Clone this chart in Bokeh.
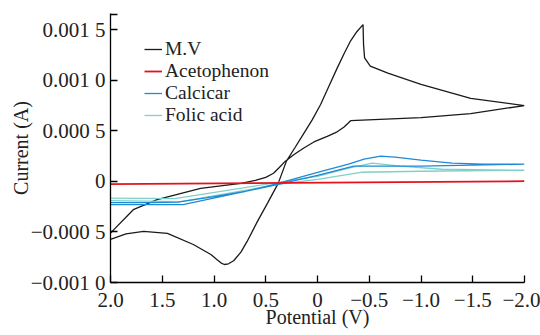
from bokeh.plotting import figure
from bokeh.models import FixedTicker, Legend, LegendItem, Range1d
from bokeh.embed import file_html
from bokeh.resources import INLINE

# ---- data (potential in V, current in A) ----
mv_x = [2.0, 1.85, 1.68, 1.45, 1.20, 1.03, 0.97, 0.93, 0.90, 0.86, 0.81, 0.74, 0.68, 0.58, 0.48, 0.38,
        0.30, 0.22, 0.135, 0.05, -0.03, -0.11, -0.19, -0.26, -0.32, -0.38, -0.44,
        -0.445, -0.455, -0.51, -0.68, -1.0, -1.48, -2.0,
        -1.48, -1.0, -0.32, -0.29, -0.254, -0.19, -0.094, 0.035, 0.132, 0.23, 0.31, 0.374, 0.425,
        0.50, 0.60, 0.74, 1.13, 1.55, 1.78, 1.97, 2.0]
mv_y = [-0.000574, -0.00052, -0.000495, -0.000515, -0.000624, -0.000723, -0.000775, -0.000808, -0.000822,
        -0.000815, -0.000785, -0.0007, -0.000594, -0.000396, -0.00021, -0.00002,
        0.00020, 0.00033, 0.00047, 0.00061, 0.00076, 0.00094, 0.00112, 0.00127, 0.00139, 0.00148, 0.00155,
        0.00135, 0.00122, 0.00114, 0.00107, 0.00096, 0.00082, 0.00075,
        0.00067, 0.00063, 0.0006, 0.00057, 0.000535, 0.00049, 0.000445, 0.00039, 0.00033, 0.000264,
        0.0002, 0.000132, 0.00008,
        0.00004, 0.00001, -0.00002, -0.00007, -0.00018, -0.00028, -0.00048, -0.00051]

aceto_x = [2.0, -2.0]
aceto_y = [-0.000028, 0.000002]

calc_x = [2.0, 1.6, 1.35, 1.0, 0.7, 0.38, 0.0, -0.3, -0.45, -0.61, -0.75, -1.0, -1.3, -1.6, -2.0,
          -1.0, -0.35, 0.0, 0.38, 1.3, 2.0]
calc_y = [-0.00021, -0.00021, -0.000205, -0.00015, -0.0001, -0.00002, 0.00009, 0.00017, 0.00022, 0.00025,
          0.00024, 0.00021, 0.00018, 0.00017, 0.00017,
          0.00015, 0.00015, 0.00006, -0.00003, -0.00023, -0.00023]

folic_x = [2.0, 1.38, 0.38, 0.0, -0.3, -0.53, -0.8, -1.2, -2.0,
           -1.0, -0.42, 0.0, 0.38, 1.32, 2.0]
folic_y = [-0.000165, -0.00017, -0.00001, 0.00005, 0.00013, 0.00018, 0.00015, 0.00012, 0.00011,
           0.0001, 0.00009, 0.00002, -0.00003, -0.0002, -0.00019]

x_ticks = [2.0, 1.5, 1.0, 0.5, 0.0, -0.5, -1.0, -1.5, -2.0]
x_labels = ["2.0", "1.5", "1.0", "0.5", "0", "\u22120.5", "\u22121.0", "\u22121.5", "\u22122.0"]
y_ticks = [-0.001, -0.0005, 0.0, 0.0005, 0.001, 0.0015, 0.001655]
y_labels = ["\u22120.001 0", "\u22120.000 5", "0", "0.000 5", "0.001 0", "0.001 5", ""]

series_names = ["M.V", "Acetophenon", "Calcicar", "Folic acid"]

FONT = "Liberation Serif"

p = figure(width=540, height=335, output_backend="svg", toolbar_location=None,
           x_range=Range1d(2.0, -2.0), y_range=Range1d(-0.001, 0.00166),
           min_border_left=110, min_border_right=16, min_border_top=13, min_border_bottom=53)
p.outline_line_color = None
p.grid.visible = False
p.background_fill_color = "white"
p.border_fill_color = "white"

for ax in (p.xaxis[0], p.yaxis[0]):
    ax.axis_line_color = "black"
    ax.axis_line_width = 1.3
    ax.major_tick_line_color = "black"
    ax.major_tick_line_width = 1.3
    ax.major_tick_in = 7
    ax.major_tick_out = 0
    ax.minor_tick_line_color = None
    ax.major_label_text_font = FONT
    ax.major_label_text_font_size = "21px"
    ax.major_label_text_color = "#222222"
    ax.axis_label_text_font = FONT
    ax.axis_label_text_font_size = "20px"
    ax.axis_label_text_font_style = "normal"
    ax.axis_label_text_color = "#222222"

p.xaxis[0].ticker = FixedTicker(ticks=x_ticks)
p.xaxis[0].major_label_overrides = {t: l for t, l in zip(x_ticks, x_labels)}
p.xaxis[0].axis_label = "Potential (V)"
p.xaxis[0].major_label_standoff = 10
p.xaxis[0].axis_label_standoff = -4

p.yaxis[0].ticker = FixedTicker(ticks=y_ticks)
p.yaxis[0].major_label_overrides = {t: l for t, l in zip(y_ticks, y_labels)}
p.yaxis[0].axis_label = "Current (A)"
p.yaxis[0].major_label_standoff = 5
p.yaxis[0].axis_label_standoff = -4

r_mv = p.line(mv_x, mv_y, line_color="#1a1a1a", line_width=1.3)
r_fo = p.line(folic_x, folic_y, line_color="#7fd0c8", line_width=1.3)
r_ca = p.line(calc_x, calc_y, line_color="#1e8ad6", line_width=1.3)
r_ac = p.line(aceto_x, aceto_y, line_color="#e5121b", line_width=1.8)

# one single-row legend per series, so that row spacing matches the reference
legend_rows = [(series_names[0], r_mv, 222), (series_names[1], r_ac, 200),
               (series_names[2], r_ca, 178), (series_names[3], r_fo, 156)]
for name, rend, ly in legend_rows:
    lg = Legend(items=[LegendItem(label=name, renderers=[rend])], location=(34, ly))
    lg.label_text_font = FONT
    lg.label_text_font_size = "19.5px"
    lg.label_text_color = "#222222"
    lg.label_height = 20
    lg.spacing = 0
    lg.padding = 0
    lg.margin = 0
    lg.glyph_width = 18
    lg.glyph_height = 20
    lg.label_standoff = 3
    lg.border_line_color = None
    lg.background_fill_alpha = 0
    p.add_layout(lg)

open("out.html", "w").write(file_html(p, INLINE))
